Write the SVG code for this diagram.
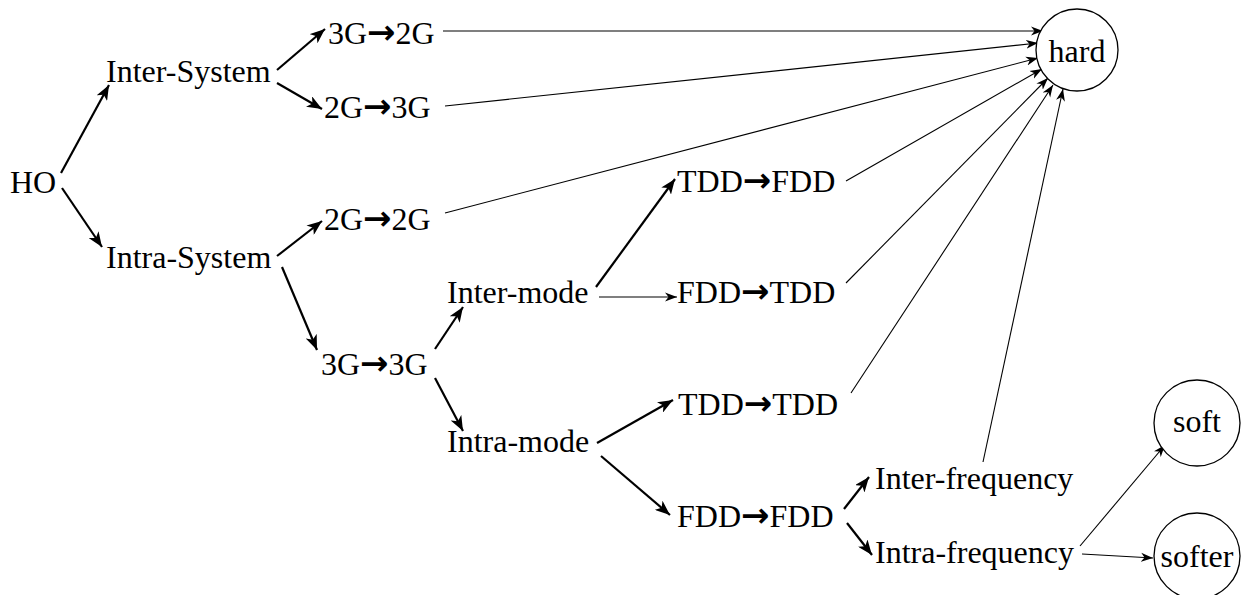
<svg xmlns="http://www.w3.org/2000/svg" width="1246" height="595" viewBox="0 0 1246 595">
<style>
  text { font-family: "Liberation Serif", "Times New Roman", serif; font-size: 32px; fill: #000; }
  .a { font-family: "DejaVu Sans", sans-serif; font-size: 34px; font-weight: bold; }
  .c { text-anchor: middle; }
  .thick { stroke: #000; stroke-width: 2.2; fill: none; marker-end: url(#ah); }
  .thin { stroke: #000; stroke-width: 1.1; fill: none; marker-end: url(#at); }
  circle { fill: #fff; stroke: #000; stroke-width: 1.3; }
</style>
<defs>
  <marker id="ah" markerUnits="userSpaceOnUse" markerWidth="16" markerHeight="12" refX="15" refY="6" orient="auto" viewBox="0 0 16 12">
    <path d="M0,0 L15,6 L0,12 L4,6 z" fill="#000"/>
  </marker>
  <marker id="at" markerUnits="userSpaceOnUse" markerWidth="13" markerHeight="10" refX="12" refY="4.5" orient="auto" viewBox="0 0 13 9">
    <path d="M0,0 L12,4.5 L0,9 L3.5,4.5 z" fill="#000"/>
  </marker>
</defs>
<g id="connectors">
  <line class="thick" x1="61" y1="173" x2="109" y2="85"/>
  <line class="thick" x1="62" y1="188" x2="102" y2="247"/>
  <line class="thick" x1="277" y1="70" x2="325" y2="29"/>
  <line class="thick" x1="277" y1="83" x2="322" y2="109"/>
  <line class="thick" x1="277" y1="256" x2="322" y2="221"/>
  <line class="thick" x1="282" y1="267" x2="317" y2="350"/>
  <line class="thick" x1="435" y1="349" x2="463" y2="307"/>
  <line class="thick" x1="435" y1="378" x2="463" y2="431"/>
  <line class="thick" x1="596" y1="287" x2="675" y2="179"/>
  <line class="thin" x1="599" y1="297" x2="677" y2="297"/>
  <line class="thick" x1="597" y1="443" x2="673" y2="400"/>
  <line class="thick" x1="601" y1="456" x2="670" y2="515"/>
  <line class="thick" x1="844" y1="509" x2="869" y2="477"/>
  <line class="thick" x1="847" y1="523" x2="872" y2="555"/>
  <line class="thin" x1="443" y1="31" x2="1043" y2="31"/>
  <line class="thin" x1="445" y1="106" x2="1038" y2="43"/>
  <line class="thin" x1="445" y1="213" x2="1038" y2="58"/>
  <line class="thin" x1="846" y1="181" x2="1042" y2="69"/>
  <line class="thin" x1="846" y1="283" x2="1048" y2="78"/>
  <line class="thin" x1="851" y1="393" x2="1053" y2="85"/>
  <line class="thin" x1="983" y1="462" x2="1063" y2="89"/>
  <line class="thin" x1="1080" y1="546" x2="1165" y2="445"/>
  <line class="thin" x1="1082" y1="554" x2="1153" y2="558"/>
</g>
<g id="ho"><text x="10" y="193">HO</text></g>
<g id="inter-system"><text x="106" y="82">Inter-System</text></g>
<g id="intra-system"><text x="106" y="268">Intra-System</text></g>
<g id="n3g2g"><text x="328" y="44">3G<tspan class="a">→</tspan>2G</text></g>
<g id="n2g3g"><text x="324" y="118">2G<tspan class="a">→</tspan>3G</text></g>
<g id="n2g2g"><text x="324" y="230">2G<tspan class="a">→</tspan>2G</text></g>
<g id="n3g3g"><text x="321" y="375">3G<tspan class="a">→</tspan>3G</text></g>
<g id="inter-mode"><text x="447" y="303">Inter-mode</text></g>
<g id="intra-mode"><text x="447" y="452">Intra-mode</text></g>
<g id="tdd-fdd"><text x="677" y="192">TDD<tspan class="a">→</tspan>FDD</text></g>
<g id="fdd-tdd"><text x="677" y="303">FDD<tspan class="a">→</tspan>TDD</text></g>
<g id="tdd-tdd"><text x="678" y="415">TDD<tspan class="a">→</tspan>TDD</text></g>
<g id="fdd-fdd"><text x="677" y="527">FDD<tspan class="a">→</tspan>FDD</text></g>
<g id="inter-frequency"><text x="875" y="489">Inter-frequency</text></g>
<g id="intra-frequency"><text x="875" y="563">Intra-frequency</text></g>
<g id="hard"><circle cx="1077" cy="50" r="41"/><text class="c" x="1077" y="62">hard</text></g>
<g id="soft"><circle cx="1197" cy="423" r="43"/><text class="c" x="1197" y="432">soft</text></g>
<g id="softer"><circle cx="1197" cy="556" r="43"/><text class="c" x="1197" y="567">softer</text></g>
</svg>
